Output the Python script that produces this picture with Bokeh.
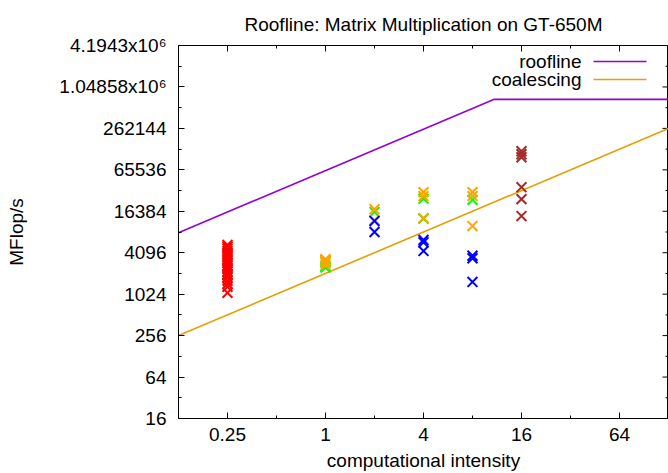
import math
from bokeh.plotting import figure
from bokeh.models import FixedTicker, Label, Arrow
from bokeh.embed import file_html
from bokeh.resources import INLINE

# ---- axes ----
x_ticks = [0.25, 1, 4, 16, 64]
x_tick_labels = ["0.25", "1", "4", "16", "64"]
x_minor = [0.5, 2, 8, 32]
x_limits = [0.125, 128]

y_ticks = [16, 64, 256, 1024, 4096, 16384, 65536, 262144, 1048576, 4194304]
y_tick_labels = ["16", "64", "256", "1024", "4096", "16384", "65536", "262144",
                 "1.04858x10\u2076", "4.1943x10\u2076"]
y_minor = [32, 128, 512, 2048, 8192, 32768, 131072, 524288, 2097152]
y_limits = [16, 4194304]

TITLE = "Roofline: Matrix Multiplication on GT-650M"

# ---- model lines ----
peak_mflops = 691200      # MFlop/s
mem_bw = 64000            # MB/s
coalescing_bw = 2048      # MB/s

# ---- measurements (MFlop/s vs computational intensity) ----
red_x = [0.25] * 21
red_y = [5300, 5000, 4700, 4344, 4100, 3800, 3556, 3300, 3100, 2911, 2700,
         2500, 2383, 2200, 2000, 1951, 1800, 1597, 1450, 1307, 1070]

green_x = [1, 1, 1, 1, 2, 4, 4, 8]
green_y = [3200, 3000, 2600, 2500, 15950, 25000, 12800, 24000]

orange_x = [1, 1, 1, 1, 2, 2, 4, 4, 4, 8, 8, 8]
orange_y = [3300, 3100, 2900, 2700, 17600, 12220, 31090, 27200, 13060,
            31090, 27200, 10000]

blue_x = [2, 2, 4, 4, 4, 8, 8, 8]
blue_y = [11800, 8190, 6270, 5800, 4344, 3700, 3400, 1544]

brown_x = [16, 16, 16, 16, 16, 16]
brown_y = [122000, 110400, 99900, 36700, 24600, 13960]

FONT = "Liberation Sans"
FS = "19px"

p = figure(width=668, height=473, x_axis_type="log", y_axis_type="log",
           x_range=tuple(x_limits), y_range=tuple(y_limits),
           output_backend="svg", toolbar_location=None, title=TITLE,
           min_border_left=178, min_border_right=0, min_border_top=44,
           min_border_bottom=55)
p.title.align = "center"
p.title.vertical_align = "bottom"
p.title.text_font = FONT
p.title.text_font_size = FS
p.title.text_font_style = "normal"
p.title.text_color = "black"
p.title.standoff = 22
p.grid.visible = False
p.outline_line_color = "black"
p.outline_line_width = 1
p.background_fill_color = "white"
p.border_fill_color = "white"

def style_axis(ax, ticks, minor, labels):
    ax.ticker = FixedTicker(ticks=ticks, minor_ticks=minor)
    ax.major_tick_in = 6
    ax.major_tick_out = 0
    ax.minor_tick_in = 3
    ax.minor_tick_out = 0
    ax.major_tick_line_color = "black"
    ax.minor_tick_line_color = "black"
    ax.axis_line_color = "black"
    ax.major_label_text_font = FONT
    ax.major_label_text_font_size = FS
    ax.major_label_text_color = "black"
    ax.axis_label_text_font = FONT
    ax.axis_label_text_font_size = FS
    ax.axis_label_text_font_style = "normal"
    ax.axis_label_text_color = "black"
    ax.major_label_overrides = dict(zip(ticks, labels))

style_axis(p.xaxis[0], x_ticks, x_minor, x_tick_labels)
style_axis(p.yaxis[0], y_ticks, y_minor, y_tick_labels)
p.xaxis[0].axis_label = "computational intensity"
p.yaxis[0].axis_label = "MFlop/s"
p.xaxis[0].major_label_standoff = 9
p.xaxis[0].axis_label_standoff = 6
p.yaxis[0].major_label_standoff = 12
p.yaxis[0].axis_label_standoff = 29

# mirror ticks on the top and right borders (gnuplot style)
for ticks, ln in ((x_ticks, 6), (x_minor, 3)):
    p.ray(x=ticks, y=[y_limits[1]] * len(ticks), length=ln, length_units="screen",
          angle=-math.pi / 2, line_color="black", line_width=1)
for ticks, ln in ((y_ticks, 6), (y_minor, 3)):
    p.ray(x=[x_limits[1]] * len(ticks), y=ticks, length=ln, length_units="screen",
          angle=math.pi, line_color="black", line_width=1)

# roofline and coalescing lines
ridge = peak_mflops / mem_bw
roof_x = [x_limits[0], ridge, x_limits[1]]
roof_y = [min(peak_mflops, mem_bw * x) for x in roof_x]
p.line(roof_x, roof_y, line_color="#9400d3", line_width=1.6)
coal_y = [coalescing_bw * x for x in x_limits]
p.line(x_limits, coal_y, line_color="#e69f00", line_width=1.6)

# measurements
for xs, ys, col in ((red_x, red_y, "#ff0000"), (green_x, green_y, "#00ff00"),
                    (orange_x, orange_y, "#ffa500"), (blue_x, blue_y, "#0000ff"),
                    (brown_x, brown_y, "#a52a2a")):
    p.scatter(xs, ys, marker="x", size=14, line_color=col, line_width=2)

# gnuplot-style key: label on the left, sample on the right
# (screen units: relative to the plot frame, y measured up from its bottom)
key = [("roofline", "#9400d3"), ("coalescing", "#e69f00")]
for i, (name, col) in enumerate(key):
    yy = 357 - 18 * i
    p.add_layout(Label(x=403, y=yy, x_units="screen", y_units="screen", text=name,
                       text_align="right", text_baseline="middle",
                       text_font=FONT, text_font_size=FS, text_color="black"))
    p.add_layout(Arrow(x_start=415, y_start=yy, x_end=468, y_end=yy,
                       start_units="screen", end_units="screen",
                       start=None, end=None, line_color=col, line_width=1.6))

open("out.html", "w").write(file_html(p, INLINE))
